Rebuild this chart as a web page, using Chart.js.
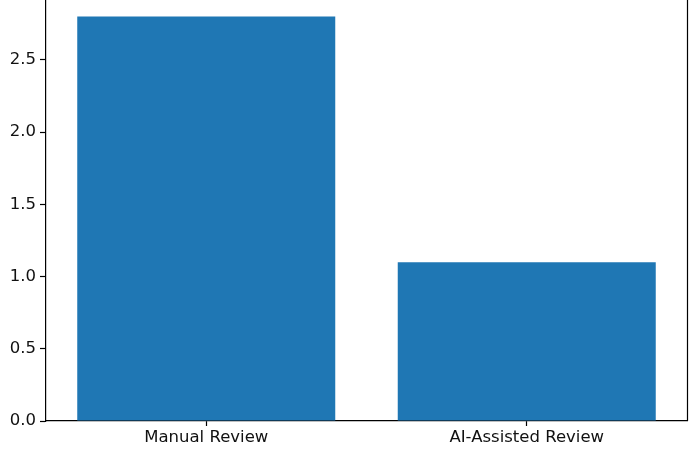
<!DOCTYPE html>
<html><head><meta charset="utf-8">
<script src="https://cdn.jsdelivr.net/npm/chart.js@4"></script>
<style>html,body{margin:0;padding:0;background:#fff}#wrap{width:700px;height:450px}</style>
</head><body><div id="wrap"><canvas id="c" width="700" height="450"></canvas></div>
<script>
const categories = ["Manual Review", "AI-Assisted Review"];
const values = [2.8, 1.1];
const yTicks = [0.0, 0.5, 1.0, 1.5, 2.0, 2.5];
const yMax = 2.915;

const spinePlugin = {
  id: 'rightSpine',
  afterDraw(chart) {
    const {ctx, chartArea} = chart;
    ctx.save();
    ctx.strokeStyle = '#000';
    ctx.lineWidth = 1.2;
    ctx.beginPath();
    ctx.moveTo(chartArea.right + 0.5, chartArea.top);
    ctx.lineTo(chartArea.right + 0.5, chartArea.bottom);
    ctx.stroke();
    ctx.restore();
  }
};

new Chart(document.getElementById('c'), {
  type: 'bar',
  data: {
    labels: categories,
    datasets: [{ data: values, backgroundColor: '#1f77b4', borderWidth: 0, barPercentage: 0.805, categoryPercentage: 1.0 }]
  },
  options: {
    responsive: false,
    animation: false,
    devicePixelRatio: 1,
    layout: { padding: { top: 0, right: 13, left: 0, bottom: 0 } },
    plugins: { legend: { display: false }, tooltip: { enabled: false } },
    scales: {
      x: {
        grid: { offset: false, drawOnChartArea: false, drawTicks: true, tickLength: 5, tickColor: '#000', tickWidth: 1.2 },
        border: { display: true, color: '#000', width: 1.2 },
        ticks: { color: '#111', font: { family: 'DejaVu Sans', size: 16.5 }, padding: 2 },
        afterFit(s) { s.height = 29; s.paddingLeft = 0; s.paddingRight = 0; }
      },
      y: {
        min: 0, max: yMax,
        grid: { drawOnChartArea: false, drawTicks: true, tickLength: 6, tickColor: '#000', tickWidth: 1.2 },
        border: { display: true, color: '#000', width: 1.2 },
        ticks: { color: '#111', font: { family: 'DejaVu Sans', size: 16.5 }, padding: 4,
          callback: v => Number(v).toFixed(1) },
        afterBuildTicks(s) { s.ticks = yTicks.map(v => ({ value: v })); },
        afterFit(s) { s.width = 46; s.paddingTop = 0; s.paddingBottom = 0; }
      }
    }
  },
  plugins: [spinePlugin]
});
</script>
</body></html>
